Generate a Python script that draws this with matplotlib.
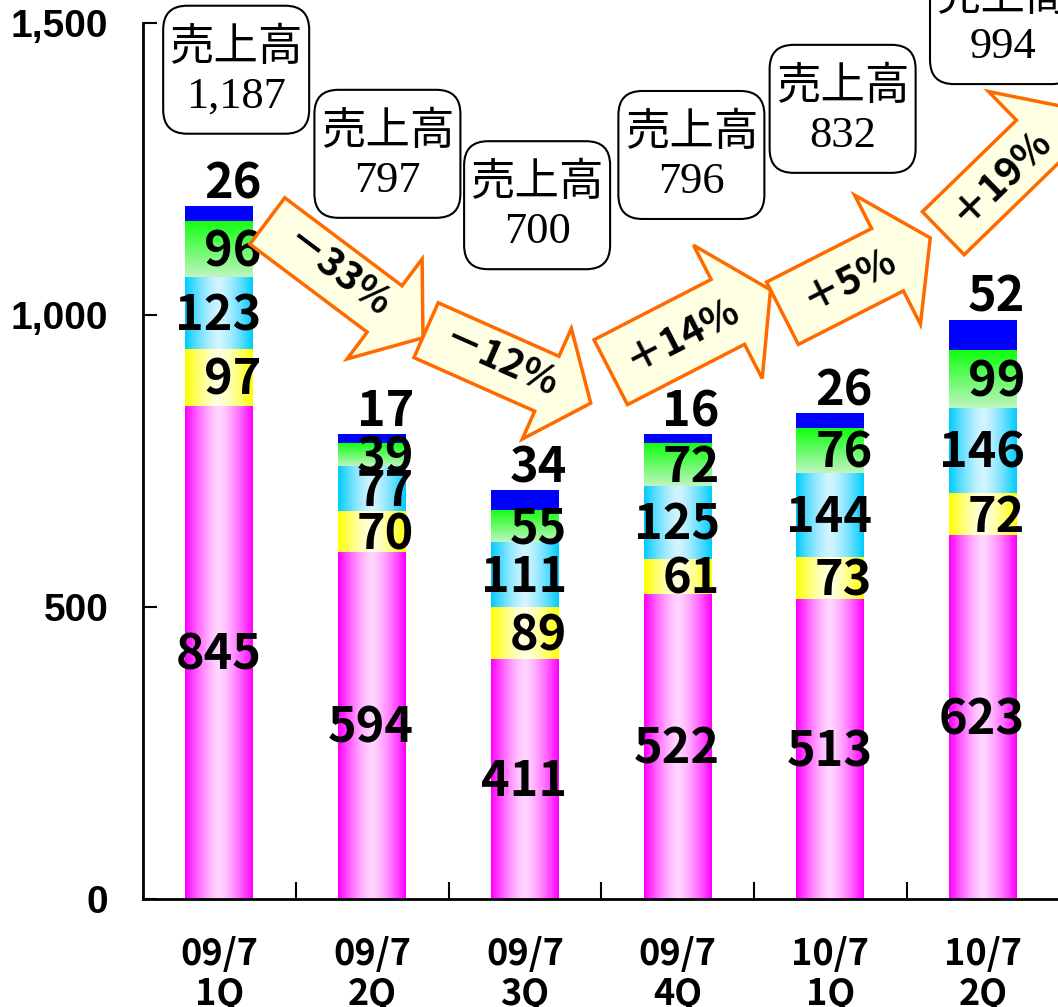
import matplotlib
matplotlib.use('Agg')
import matplotlib.pyplot as plt
import numpy as np
from matplotlib.patches import FancyBboxPatch, Polygon
from matplotlib.transforms import IdentityTransform
from matplotlib.colors import to_rgb

plt.rcParams['font.family'] = ['Noto Sans CJK JP', 'DejaVu Sans']

# quarterly sales, stacked by segment (bottom to top)
quarters = ['09/7\n1Q', '09/7\n2Q', '09/7\n3Q', '09/7\n4Q', '10/7\n1Q', '10/7\n2Q']
seg_pink = [845, 594, 411, 522, 513, 623]
seg_yellow = [97, 70, 89, 61, 73, 72]
seg_sky = [123, 77, 111, 125, 144, 146]
seg_green = [96, 39, 55, 72, 76, 99]
seg_blue = [26, 17, 34, 16, 26, 52]
sales = ['1,187', '797', '700', '796', '832', '994']
growth = ['－33%', '－12%', '＋14%', '＋5%', '＋19%']

# callout layout (value units / category units)
box_x = [0.11, 1.10, 2.08, 3.09, 4.08, 5.13]
box_y = [1420, 1276, 1188, 1274, 1353, 1505]
arrow_tail = [(0.314, 1161), (1.353, 974), (2.562, 902), (3.686, 1003), (4.739, 1140)]
arrow_tip = [(1.333, 961), (2.431, 849), (3.608, 1043), (4.654, 1132), (5.58, 1354)]
shaft_w = [58, 60, 73, 70, 60]
head_w = [125, 121, 150, 145, 140]
head_len = 48

fig = plt.figure(figsize=(10.58, 10.07), dpi=100)
ax = fig.add_axes([143 / 1058, 108 / 1007, 1 - 143 / 1058, 876 / 1007])

x = np.arange(len(quarters))
width = 0.445


def hgrad(edge, light, n=64):
    t = np.abs(np.linspace(-1, 1, n)) ** 1.4
    e, l = np.array(to_rgb(edge)), np.array(to_rgb(light))
    return (l + (e - l) * t[:, None])[None, :, :]


def vgrad(top, bottom, n=64):
    t = np.linspace(0, 1, n)
    a, b = np.array(to_rgb(top)), np.array(to_rgb(bottom))
    return (a + (b - a) * t[:, None])[:, None, :]


layers = [
    (seg_pink, hgrad('#ff00ff', '#ffd6ff')),
    (seg_yellow, hgrad('#ffff00', '#ffffe0')),
    (seg_sky, hgrad('#00ccff', '#d2f4ff')),
    (seg_green, vgrad('#11ff11', '#bff5bf')),
    (seg_blue, None),
]

bottom = np.zeros(len(x))
for vals, img in layers:
    vals = np.array(vals, dtype=float)
    for i in range(len(x)):
        x0, x1 = x[i] - width / 2, x[i] + width / 2
        y0, y1 = bottom[i], bottom[i] + vals[i]
        if img is None:
            ax.bar(x[i], vals[i], width, bottom=y0, color='#0000ff', zorder=2)
        else:
            ax.imshow(img, extent=(x0, x1, y0, y1), aspect='auto',
                      interpolation='bilinear', zorder=2)
    # value labels
    for i in range(len(x)):
        if img is None:
            yy = bottom[i] + vals[i] + 38
        else:
            yy = bottom[i] + vals[i] / 2 - 5
        ax.text(x[i] + 0.275, yy, str(int(vals[i])), ha='right', va='center',
                fontsize=35, fontweight='bold', zorder=5)
    bottom += vals

ax.set_xlim(-0.5, 5.49)
ax.set_ylim(0, 1500)
ax.set_yticks([0, 500, 1000, 1500])
ax.set_yticklabels(['0', '500', '1,000', '1,500'], family='Liberation Sans',
                   fontsize=28, fontweight='bold')
ax.set_xticks(x)
ax.set_xticklabels(quarters, fontsize=26, fontweight='bold', linespacing=1.1)
ax.set_xticks(x[:-1] + 0.5, minor=True)
ax.tick_params(axis='x', which='major', length=0, pad=27)
ax.tick_params(axis='x', which='minor', direction='in', length=12, width=1.5)
ax.tick_params(axis='y', direction='in', length=10, width=1.5, pad=25)
for s in ['top', 'right']:
    ax.spines[s].set_visible(False)
for s in ['left', 'bottom']:
    ax.spines[s].set_linewidth(2)

# growth arrows, drawn in pixel space so the shapes stay square
for k in range(len(growth)):
    p0 = ax.transData.transform(arrow_tail[k])
    p1 = ax.transData.transform(arrow_tip[k])
    d = (p1 - p0) / np.linalg.norm(p1 - p0)
    n = np.array([-d[1], d[0]])
    base = p1 - d * head_len
    sw, hw = shaft_w[k] / 2, head_w[k] / 2
    pts = [p0 + n * sw, base + n * sw, base + n * hw, p1,
           base - n * hw, base - n * sw, p0 - n * sw]
    fig.add_artist(Polygon(pts, closed=True, transform=IdentityTransform(),
                           facecolor='#ffffe3', edgecolor='#ff6a00', lw=2.5,
                           joinstyle='miter', zorder=6))
    c = p0 + (p1 - p0) * 0.45
    ang = np.degrees(np.arctan2(d[1], d[0]))
    fig.text(c[0], c[1], growth[k], transform=IdentityTransform(), fontsize=28,
             fontweight='bold', rotation=ang, rotation_mode='anchor',
             ha='center', va='center', zorder=7)

# sales callout boxes
bw, bh = 146, 128
for k in range(len(sales)):
    cx, cy = ax.transData.transform((box_x[k], box_y[k]))
    fig.add_artist(FancyBboxPatch((cx - bw / 2 + 14, cy - bh / 2 + 14), bw - 28, bh - 28,
                                  boxstyle='round,pad=14,rounding_size=24',
                                  transform=IdentityTransform(), facecolor='white',
                                  edgecolor='black', lw=1.5, zorder=8))
    fig.text(cx, cy + 23, '売上高', transform=IdentityTransform(), fontsize=32,
             ha='center', va='center', zorder=9)
    fig.text(cx, cy - 27, sales[k], transform=IdentityTransform(), fontsize=32,
             family=['Liberation Serif', 'Noto Sans CJK JP'],
             ha='center', va='center', zorder=9)

fig.savefig('out.png', dpi=100)
